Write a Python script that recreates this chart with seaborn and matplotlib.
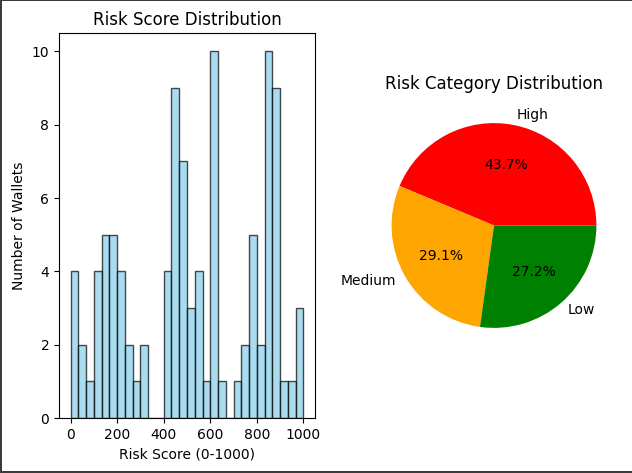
import numpy as np
import matplotlib
matplotlib.use('Agg')
import matplotlib.pyplot as plt
from matplotlib.patches import Rectangle
import seaborn as sns

# counts per 33.3-wide score bin
bin_counts = [4, 2, 1, 4, 5, 5, 4, 2, 1, 2,
              0, 0, 4, 9, 7, 3, 4, 1, 10, 1,
              0, 1, 2, 5, 2, 10, 9, 1, 1, 3]
n_bins = len(bin_counts)
score_range = (0, 1000)

categories = ['High', 'Medium', 'Low']
category_counts = [45, 30, 28]
category_colors = ['red', 'orange', 'green']

edges = np.linspace(score_range[0], score_range[1], n_bins + 1)
centers = (edges[:-1] + edges[1:]) / 2

fig, (ax1, ax2) = plt.subplots(1, 2, figsize=(6.32, 4.73), dpi=100)
fig.subplots_adjust(left=59 / 632, right=622 / 632, top=1 - 33 / 473,
                    bottom=1 - 418 / 473, wspace=51 / 256)

sns.histplot(x=centers, weights=bin_counts, bins=n_bins, binrange=score_range,
             color='skyblue', edgecolor=(0, 0, 0, 0.7), alpha=0.7, linewidth=1, ax=ax1)
for bar in ax1.patches:
    bar.set_edgecolor((0, 0, 0, 0.7))
ax1.set_title('Risk Score Distribution')
ax1.set_xlabel('Risk Score (0-1000)')
ax1.set_ylabel('Number of Wallets')

ax2.pie(category_counts, labels=categories, colors=category_colors, autopct='%1.1f%%')
ax2.set_title('Risk Category Distribution')

# dark screenshot edge on left, top and bottom only
border = '#3c3c3c'
for x, y, w, h in [(0, 0, 2 / 632, 1), (0, 1 - 1 / 473, 1, 1 / 473), (0, 0, 1, 2 / 473)]:
    fig.add_artist(Rectangle((x, y), w, h, transform=fig.transFigure,
                             facecolor=border, edgecolor='none'))
fig.savefig('out.png', dpi=100)
